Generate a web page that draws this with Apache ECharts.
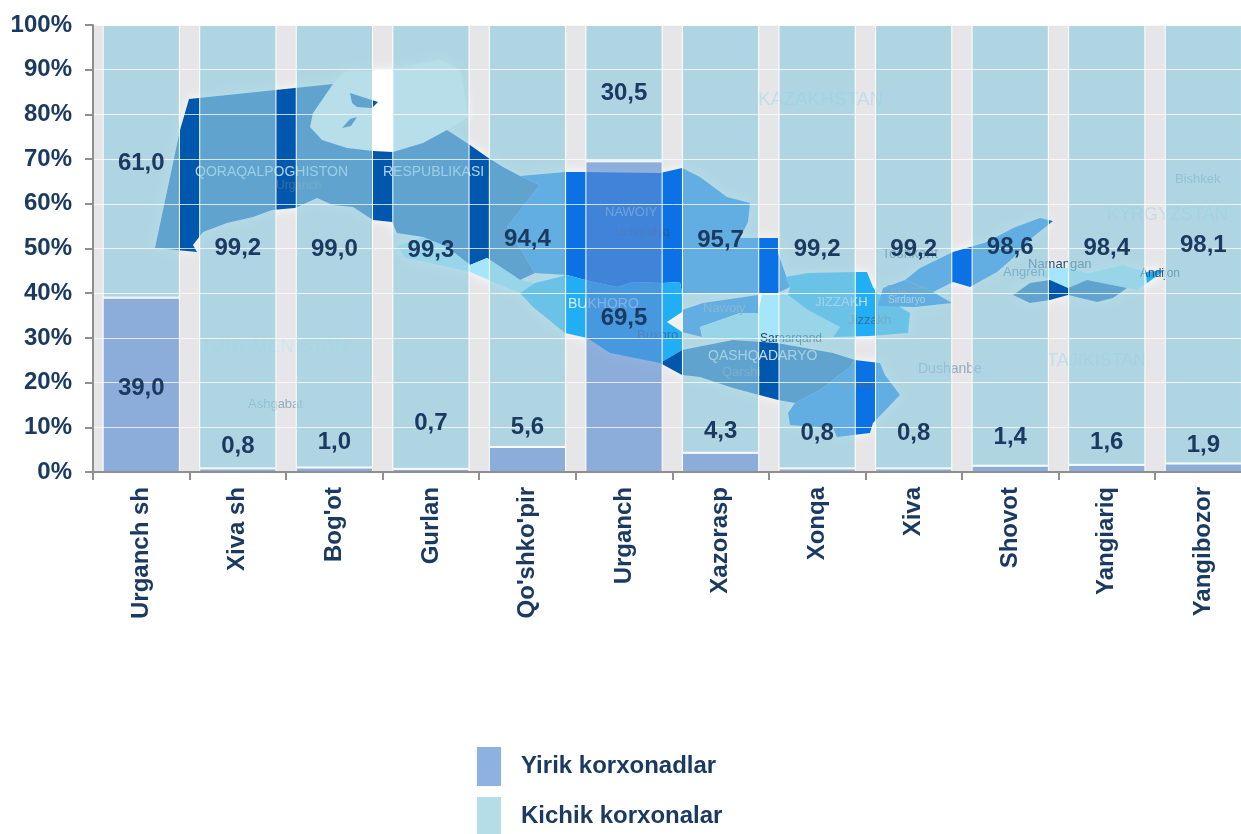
<!DOCTYPE html>
<html>
<head>
<meta charset="utf-8">
<title>Yirik va kichik korxonalar</title>
<style>
  html, body { margin: 0; padding: 0; background: #fff; overflow: hidden; width: 1241px; height: 834px; }
  /* график шире окна: последняя колонка обрезана правым краем, как в оригинале */
  #main { width: 1260px; height: 850px; }
</style>
<script src="https://cdn.jsdelivr.net/npm/echarts@6/dist/echarts.min.js"></script>
</head>
<body>
<div id="main"></div>
<script>
var categories = ['Urganch sh', 'Xiva sh', "Bog'ot", 'Gurlan', "Qo'shko'pir", 'Urganch', 'Xazorasp', 'Xonqa', 'Xiva', 'Shovot', 'Yangiariq', 'Yangibozor'];
var yirik = [39.0, 0.8, 1.0, 0.7, 5.6, 69.5, 4.3, 0.8, 0.8, 1.4, 1.6, 1.9];
var kichik = [61.0, 99.2, 99.0, 99.3, 94.4, 30.5, 95.7, 99.2, 99.2, 98.6, 98.4, 98.1];

// сдвиг подписей относительно центра сегмента
var yirikLabelShift = [4, -24, -27, -47, -32, 2, -31, -37, -37, -31, -26, -22];
var kichikLabelShift = [2, 2, 3, 3, 3, 0, 1, 3, 3, 2, 3, 1];

var seriesNames = ['Yirik korxonadlar', 'Kichik korxonalar'];
var textColor = '#1b3a62';
var fontName = '"Liberation Sans", Arial, sans-serif';

// фоновая карта, чисто декоративная
var mapRegions = [
    { color: '#ffffff', points: [[333, 84], [345, 72], [390, 70], [440, 60], [460, 70], [468, 117], [447, 130], [423, 143], [393, 152], [373, 151], [347, 148], [322, 140], [310, 127], [313, 113]] },
    { color: '#0058ae', points: [[189, 99], [333, 84], [313, 113], [310, 127], [322, 140], [347, 148], [373, 151], [393, 152], [423, 143], [447, 130], [470, 145], [487, 157], [503, 167], [520, 176], [540, 185], [507, 227], [535, 273], [520, 280], [487, 258], [470, 265], [447, 247], [423, 237], [397, 233], [392, 222], [373, 220], [353, 207], [333, 205], [317, 198], [295, 208], [272, 210], [253, 217], [227, 223], [203, 232], [193, 245], [197, 252], [155, 248], [180, 130]] },
    { color: '#0058ae', points: [[350, 93], [378, 102], [372, 108], [357, 107], [352, 103]] },
    { color: '#0058ae', points: [[342, 128], [350, 119], [357, 117], [351, 126]] },
    { color: '#a6e6fa', points: [[397, 246], [423, 237], [447, 247], [470, 265], [487, 258], [520, 280], [535, 283], [520, 293], [500, 285], [470, 272], [425, 262], [405, 258]] },
    { color: '#0a72e4', points: [[520, 176], [565, 172], [583, 172], [660, 173], [682, 168], [700, 177], [727, 197], [750, 203], [748, 222], [740, 238], [760, 238], [778, 238], [778, 253], [790, 287], [778, 293], [760, 293], [710, 293], [682, 293], [680, 282], [663, 283], [633, 282], [617, 287], [585, 280], [567, 275], [535, 273], [507, 227], [540, 185]] },
    { color: '#22aef5', points: [[535, 283], [567, 275], [585, 280], [617, 287], [633, 282], [663, 283], [680, 282], [682, 293], [682, 312], [667, 322], [682, 332], [682, 350], [660, 363], [610, 353], [587, 338], [565, 333], [533, 307], [520, 293]] },
    { color: '#0a72e4', points: [[682, 310], [703, 303], [758, 295], [758, 313], [740, 313], [700, 327], [702, 337], [682, 332]] },
    { color: '#a6e6fa', points: [[700, 327], [740, 313], [758, 313], [762, 295], [788, 295], [808, 310], [840, 327], [833, 337], [800, 340], [778, 343], [743, 340], [703, 338]] },
    { color: '#0058ae', points: [[660, 363], [682, 350], [733, 340], [777, 343], [833, 353], [855, 360], [850, 367], [820, 390], [795, 403], [778, 400], [733, 388], [700, 377], [682, 375]] },
    { color: '#0a72e4', points: [[788, 413], [795, 403], [820, 390], [850, 367], [855, 360], [880, 363], [885, 375], [900, 395], [873, 423], [870, 433], [837, 437], [833, 428], [790, 425]] },
    { color: '#22aef5', points: [[785, 277], [808, 273], [855, 272], [867, 272], [873, 287], [877, 293], [910, 313], [908, 333], [870, 336], [833, 337], [840, 327], [808, 310], [788, 295], [790, 287]] },
    { color: '#0a72e4', points: [[953, 252], [987, 242], [1013, 228], [1040, 218], [1053, 221], [1033, 237], [1013, 258], [997, 272], [970, 287], [953, 282], [933, 292], [905, 280], [920, 268]] },
    { color: '#0a72e4', points: [[883, 288], [905, 280], [933, 292], [952, 303], [915, 307], [878, 306]] },
    { color: '#a6e6fa', points: [[1050, 267], [1068, 268], [1088, 273], [1123, 265], [1147, 272], [1165, 270], [1147, 283], [1137, 290], [1127, 288], [1087, 280], [1068, 288], [1050, 280], [1040, 275]] },
    { color: '#0058ae', points: [[1013, 295], [1030, 283], [1050, 280], [1068, 288], [1087, 280], [1127, 288], [1113, 298], [1097, 302], [1068, 295], [1050, 300], [1030, 303]] },
    { color: '#22aef5', points: [[1146, 272], [1165, 270], [1147, 283]] }
];
var mapTexts = [
    ['QORAQALPOGHISTON', 195, 172, 14, '#b5d2e6'], ['RESPUBLIKASI', 383, 172, 14, '#b5d2e6'],
    ['Urganch', 276, 186, 12, '#3e6f9c'], ['NAWOIY', 605, 212, 13, '#9cc4ec'], ['Uchquduq', 615, 233, 12, '#2c5f9a'],
    ['BUKHORO', 568, 304, 14, '#d5eefa'], ['Buxoro', 637, 335, 13, '#3e6f9c'], ['Nawoiy', 703, 308, 13, '#6a94b8'],
    ['JIZZAKH', 815, 302, 13, '#c5e0f0'], ['Jizzakh', 848, 320, 13, '#3e6f9c'], ['QASHQADARYO', 708, 356, 14, '#c5dcec'],
    ['Qarshi', 722, 372, 13, '#4a7ca8'], ['Samarqand', 760, 339, 12, '#24435f'], ['TURKMENISTAN', 200, 347, 19, '#cfe6ef'],
    ['Ashgabat', 248, 404, 13, '#8fadbb'], ['KAZAKHSTAN', 758, 100, 19, '#c2dde8'], ['Dushanbe', 918, 369, 14, '#8fadbb'],
    ['TAJIKISTAN', 1047, 361, 18, '#c2dde8'], ['KYRGYZSTAN', 1107, 215, 18, '#c2dde8'], ['Bishkek', 1175, 179, 13, '#8fadbb'],
    ['Toshkent', 882, 254, 14, '#567388'], ['Namangan', 1028, 264, 13, '#2c4f72'], ['Angren', 1003, 272, 13, '#4a7ca8'],
    ['Andijon', 1140, 274, 12, '#2c4f72'], ['Guliston', 885, 291, 12, '#567388'], ['Sirdaryo', 888, 300, 10, '#c5dcec'],
    ['Denov', 840, 385, 12, '#3e6f9c']
];

var graphicList = [];
// сначала светлый ореол, потом сами области без тени
for (var h = 0; h < mapRegions.length; h++) {
    graphicList.push({
        type: 'polygon',
        z: 1,
        silent: true,
        shape: { points: mapRegions[h].points },
        style: { fill: '#ffffff', shadowBlur: 12, shadowColor: 'rgba(255,255,255,0.9)' }
    });
}
for (var i = 0; i < mapRegions.length; i++) {
    graphicList.push({
        type: 'polygon',
        z: 1,
        silent: true,
        shape: { points: mapRegions[i].points },
        style: { fill: mapRegions[i].color }
    });
}
for (var j = 0; j < mapTexts.length; j++) {
    graphicList.push({
        type: 'text',
        z: 1,
        silent: true,
        x: mapTexts[j][1],
        y: mapTexts[j][2],
        style: {
            text: mapTexts[j][0],
            fontSize: mapTexts[j][3],
            fontFamily: fontName,
            fill: mapTexts[j][4],
            verticalAlign: 'middle'
        }
    });
}

function fmt(p) {
    return p.value.toFixed(1).replace('.', ',');
}

// подписи идут отдельной прозрачной стопкой, иначе белые линии сетки режут текст
function labelData(values, shift) {
    var out = [];
    for (var n = 0; n < values.length; n++) {
        out.push({ value: values[n], label: { offset: [0, shift[n]] } });
    }
    return out;
}

var labelStyle = {
    show: true,
    position: 'inside',
    formatter: fmt,
    color: textColor,
    fontSize: 24,
    fontWeight: 'bold',
    fontFamily: fontName
};

var myChart = echarts.init(document.getElementById('main'), null, { renderer: 'canvas' });
var option = {
    animation: false,
    backgroundColor: '#ffffff',
    textStyle: { fontFamily: fontName },
    graphic: { elements: graphicList },
    grid: {
        show: true,
        left: 93,
        top: 25,
        width: 1158.6,
        height: 447,
        backgroundColor: '#e6e6e8',
        borderWidth: 0,
        containLabel: false
    },
    legend: {
        orient: 'vertical',
        left: 477,
        top: 747,
        padding: 0,
        itemWidth: 24,
        itemHeight: 39,
        itemGap: 11,
        selectedMode: false,
        textStyle: { color: textColor, fontSize: 24, fontWeight: 'bold', fontFamily: fontName, padding: [4, 0, 0, 15] },
        data: [
            { name: seriesNames[0], icon: 'rect', itemStyle: { color: '#8db1e0', borderWidth: 0 } },
            { name: seriesNames[1], icon: 'rect', itemStyle: { color: '#b5dde8', borderWidth: 0 } }
        ]
    },
    xAxis: {
        type: 'category',
        data: categories,
        z: 3,
        axisLine: { lineStyle: { color: '#8f8f8f', width: 2 } },
        axisTick: { show: true, length: 8, alignWithLabel: false, lineStyle: { color: '#8f8f8f', width: 2 } },
        axisLabel: {
            interval: 0,
            rotate: 90,
            margin: 15,
            color: textColor,
            fontSize: 24,
            fontWeight: 'bold',
            fontFamily: fontName
        }
    },
    yAxis: {
        type: 'value',
        min: 0,
        max: 100,
        interval: 10,
        z: 3,
        axisLine: { show: true, lineStyle: { color: '#8f8f8f', width: 2 } },
        axisTick: { show: true, length: 8, lineStyle: { color: '#8f8f8f', width: 2 } },
        splitLine: { show: true, lineStyle: { color: 'rgba(255,255,255,0.75)', width: 1 } },
        axisLabel: {
            formatter: '{value}%',
            margin: 21,
            color: textColor,
            fontSize: 24,
            fontWeight: 'bold',
            fontFamily: fontName
        }
    },
    series: [
        {
            name: seriesNames[0],
            type: 'bar',
            stack: 'jami',
            z: 2,
            barWidth: '80%',
            barGap: '-100%',
            itemStyle: { color: 'rgba(92,142,211,0.65)', borderColor: '#ffffff', borderWidth: 1 },
            data: yirik
        },
        {
            name: seriesNames[1],
            type: 'bar',
            stack: 'jami',
            z: 2,
            barWidth: '80%',
            barGap: '-100%',
            itemStyle: { color: 'rgba(146,204,223,0.65)', borderColor: '#ffffff', borderWidth: 1 },
            data: kichik
        },
        {
            name: 'yirikLabel',
            type: 'bar',
            stack: 'podpis',
            z: 4,
            silent: true,
            barWidth: '80%',
            barGap: '-100%',
            itemStyle: { color: 'transparent' },
            label: labelStyle,
            data: labelData(yirik, yirikLabelShift)
        },
        {
            name: 'kichikLabel',
            type: 'bar',
            stack: 'podpis',
            z: 4,
            silent: true,
            barWidth: '80%',
            barGap: '-100%',
            itemStyle: { color: 'transparent' },
            label: labelStyle,
            data: labelData(kichik, kichikLabelShift)
        }
    ]
};
myChart.setOption(option, true);
</script>
</body>
</html>
